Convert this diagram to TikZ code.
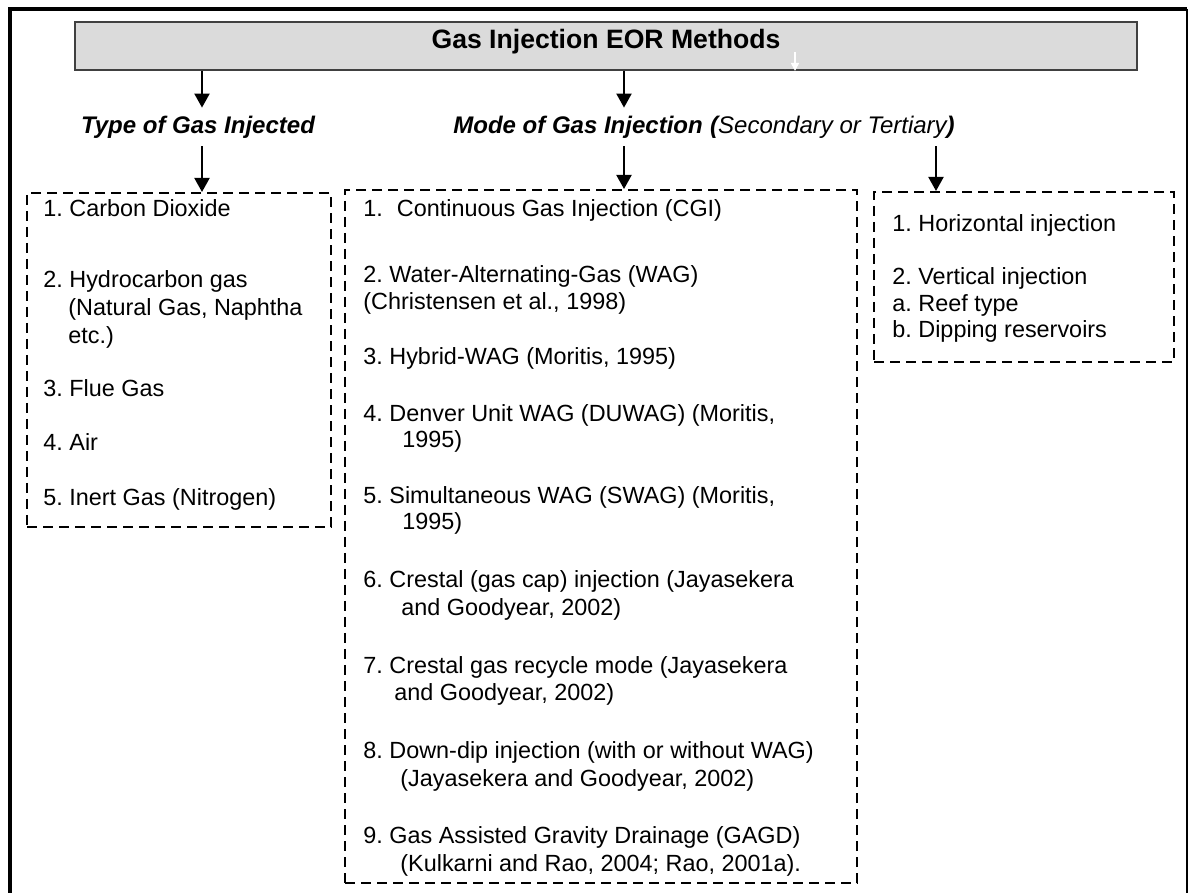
\documentclass[tikz,border=0pt]{standalone}
\usepackage{fontspec}
\setmainfont{Liberation Sans}
\usetikzlibrary{arrows.meta}

\begin{document}
\frenchspacing
\begin{tikzpicture}[x=0.5pt, y=-0.5pt,
    arr/.style={line width=1pt, -{Triangle[width=7.5pt,length=7pt]}},
    titlebox/.style={draw=black!75, line width=1pt, fill=black!14, text depth=6.7pt, font=\fontsize{13.3}{16}\selectfont\bfseries},
    lbl/.style={inner sep=0pt, minimum height=19pt, font=\fontsize{12}{14}\selectfont\bfseries\itshape},
    dashbox/.style={draw, line width=1pt, dash pattern=on 5pt off 3pt},
    item/.style={anchor=base west, inner sep=0pt, font=\fontsize{11.7}{14}\selectfont}]
    \useasboundingbox (0,0) rectangle (1190,893);

    % Outer frame (open at the bottom)
    \draw[line width=2pt] (10,893) -- (10,9) -- (1187,9);
    \draw[line width=1.3pt] (1187,9) -- (1187,893);

    % Title and the two headings
    \node[titlebox, minimum width=531pt, minimum height=24pt] (title) at (606,46) {Gas Injection EOR Methods};
    \node[lbl] (type) at (198,127) {Type of Gas Injected};
    \node[lbl, anchor=west] (mode) at (453,127) {Mode of Gas Injection};
    \node[lbl, anchor=west] (modenote) at ([xshift=3.3pt]mode.east) {(\textmd{Secondary or Tertiary})};

    % Dashed boxes
    \node[dashbox, minimum width=152pt, minimum height=167pt] (gasbox) at (179,360) {};
    \node[dashbox, minimum width=256pt, minimum height=346.5pt] (modebox) at (601,536.5) {};
    \node[dashbox, minimum width=150pt, minimum height=85pt] (dirbox) at (1024,277) {};

    % Arrows
    \coordinate (gx) at (202,0);
    \coordinate (mx) at (624,0);
    \coordinate (dx) at (936,0);
    \coordinate (wx) at (795,52);
    \draw[arr] (title.south -| gx) -- (type.north -| gx);
    \draw[arr] (type.south -| gx) -- (gasbox.north -| gx);
    \draw[arr] (title.south -| mx) -- (mode.north -| mx);
    \draw[arr] (mode.south -| mx) -- (modebox.north -| mx);
    \draw[arr] (mode.south -| dx) -- (dirbox.north -| dx);
    \draw[white, line width=0.8pt, -{Triangle[width=4pt,length=4pt]}] (wx) -- (title.south -| wx);

    % Type of gas
    \foreach \x/\y/\t [count=\i] in {43/217/{1. Carbon Dioxide}, 43/288/{2. Hydrocarbon gas},
        68/316/{(Natural Gas, Naphtha}, 68/344/{etc.)}, 43/397/{3. Flue Gas}, 43/451/{4. Air},
        43/505/{5. Inert Gas (Nitrogen)}}
        \node[item] (gas\i) at (\x,\y) {\t};

    % Mode of injection
    \foreach \x/\y/\t [count=\i] in {363/217/{1.\hspace{7pt}Continuous Gas Injection (CGI)},
        363/283/{2. Water-Alternating-Gas (WAG)}, 363/310/{(Christensen et al., 1998)},
        363/365/{3. Hybrid-WAG (Moritis, 1995)},
        363/422/{4. Denver Unit WAG (DUWAG) (Moritis,}, 402/448/{1995)},
        363/503/{5. Simultaneous WAG (SWAG) (Moritis,}, 402/530/{1995)},
        363/588/{6. Crestal (gas cap) injection (Jayasekera}, 401/615/{and Goodyear, 2002)},
        363/673/{7. Crestal gas recycle mode (Jayasekera}, 394/700/{and Goodyear, 2002)},
        363/758/{8. Down-dip injection (with or without WAG)}, 400/786/{(Jayasekera and Goodyear, 2002)},
        363/843/{9. Gas Assisted Gravity Drainage (GAGD)}, 400/871/{(Kulkarni and Rao, 2004; Rao, 2001a).}}
        \node[item] (mode\i) at (\x,\y) {\t};

    % Direction of injection
    \foreach \x/\y/\t [count=\i] in {892/232/{1. Horizontal injection}, 892/285/{2. Vertical injection},
        892/312/{a. Reef type}, 892/338/{b. Dipping reservoirs}}
        \node[item] (dir\i) at (\x,\y) {\t};

\end{tikzpicture}
\end{document}
